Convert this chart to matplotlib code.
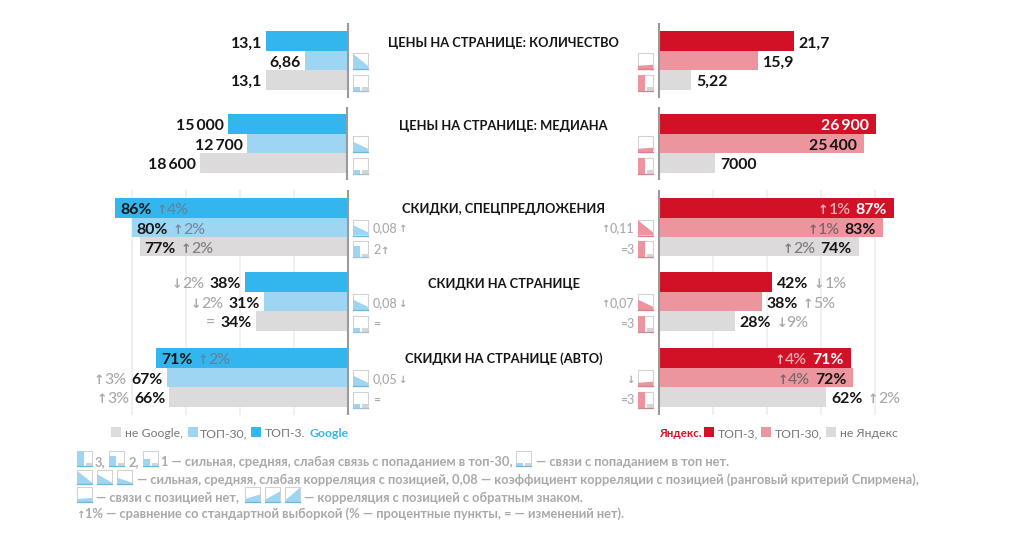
import matplotlib
matplotlib.use("Agg")
import matplotlib.pyplot as plt
from matplotlib.patches import Polygon, Rectangle

plt.rcParams['font.family'] = ['Lato', 'Noto Sans', 'DejaVu Sans']

# Data
titles = ["ЦЕНЫ НА СТРАНИЦЕ: КОЛИЧЕСТВО", "ЦЕНЫ НА СТРАНИЦЕ: МЕДИАНА", "СКИДКИ, СПЕЦПРЕДЛОЖЕНИЯ",
          "СКИДКИ НА СТРАНИЦЕ", "СКИДКИ НА СТРАНИЦЕ (АВТО)"]

google_values = [[13.1, 6.86, 13.1], [15000, 12700, 18600], [86, 80, 77], [38, 31, 34], [71, 67, 66]]
yandex_values = [[21.7, 15.9, 5.22], [26900, 25400, 7000], [87, 83, 74], [42, 38, 28], [71, 72, 62]]

google_labels = [["13,1", "6,86", "13,1"], ["15\u2009000", "12\u2009700", "18\u2009600"],
                 ["86%", "80%", "77%"], ["38%", "31%", "34%"], ["71%", "67%", "66%"]]
yandex_labels = [["21,7", "15,9", "5,22"], ["26\u2009900", "25\u2009400", "7000"],
                 ["87%", "83%", "74%"], ["42%", "38%", "28%"], ["71%", "72%", "62%"]]

google_deltas = [["", "", ""], ["", "", ""], ["↑4%", "↑2%", "↑2%"], ["↓2%", "↓2%", "="], ["↑2%", "↑3%", "↑3%"]]
yandex_deltas = [["", "", ""], ["", "", ""], ["↑1%", "↑1%", "↑2%"], ["↓1%", "↑5%", "↓9%"], ["↑4%", "↑4%", "↑2%"]]

# which labels sit inside the bar
google_inside = [[0, 0, 0], [0, 0, 0], [1, 1, 1], [0, 0, 0], [1, 0, 0]]
yandex_inside = [[0, 0, 0], [1, 1, 0], [1, 1, 1], [0, 0, 0], [1, 1, 0]]

google_corr = ["strong", "medium", "medium", "medium", "medium"]
yandex_corr = ["none", "none", "strong", "medium", "none"]
google_link = [0, 0, 2, 0, 0]
yandex_link = [3, 3, 3, 3, 3]
google_corr_notes = ["", "", "0,08↑", "0,08↓", "0,05↓"]
google_link_notes = ["", "", "2↑", "=", "="]
yandex_corr_notes = ["", "", "↑0,11", "↑0,07", "↓"]
yandex_link_notes = ["", "", "=3", "=3", "=3"]

percent_ticks = [20, 40, 60, 80]

# Layout, in pixels of the 1024x538 picture
W, H = 1024, 538
LEFT_X, RIGHT_X = 347.5, 659
group_tops = [31, 114, 197.5, 272, 348]
row_offsets = [0, 20, 39]
row_heights = [20, 19, 19.5]
title_ys = [47, 130, 213, 288, 363]
# first group, last group, px per unit on the left and on the right
panels = [(0, 1, 6.2, 6.2), (1, 2, 0.00795, 0.00807), (2, 5, 2.7, 2.7)]

BLUE, LIGHT_BLUE, GRAY = "#33b6ee", "#9dd5f3", "#dcdadb"
RED, PINK = "#d31126", "#ec959f"
DARK_TEXT, NOTE_GRAY = "#151515", "#a9a9a9"
google_colors = [BLUE, LIGHT_BLUE, GRAY]
yandex_colors = [RED, PINK, GRAY]
google_on_bar = ["#5c87a0", "#748c9a", "#808080"]
yandex_on_bar = ["#f2b4bb", "#76686a", "#7d7d7d"]

fig = plt.figure(figsize=(W / 100, H / 100), dpi=100)
deco = fig.add_axes([0, 0, 1, 1], zorder=5)
deco.set_xlim(0, W)
deco.set_ylim(H, 0)
deco.axis("off")


def side_axes(side, scale):
    if side == "left":
        ax = fig.add_axes([0, 0, LEFT_X / W, 1])
        ax.set_xlim(LEFT_X / scale, 0)
    else:
        ax = fig.add_axes([RIGHT_X / W, 0, (W - RIGHT_X) / W, 1])
        ax.set_xlim(0, (W - RIGHT_X) / scale)
    ax.set_ylim(H, 0)
    ax.axis("off")
    ax.patch.set_alpha(0)
    return ax


def split_arrow(text):
    # arrows go as their own small bold pieces, the way the reference sets them
    pieces = []
    for ch in text:
        if ch in "↑↓":
            pieces.append((ch, True))
        elif pieces and not pieces[-1][1]:
            pieces[-1] = (pieces[-1][0] + ch, False)
        else:
            pieces.append((ch, False))
    return pieces


def draw_run(ax, x, y, text, ha, color, size, weight, start_gap=0, after=None, zorder=4):
    # pieces are chained to each other, so a run can hang on the end of another text
    pieces = split_arrow(text)
    if ha == "right":
        pieces = pieces[::-1]
    prev = after
    gap = start_gap
    for piece, is_arrow in pieces:
        style = {"fontsize": size * 0.8, "fontweight": "bold", "family": ["DejaVu Sans"]} if is_arrow \
            else {"fontsize": size, "fontweight": weight}
        if prev is None:
            xy, xycoords = (x, y), "data"
        else:
            xy, xycoords = (0 if ha == "right" else 1, y), (prev, "data")
        prev = ax.annotate(piece, xy=xy, xycoords=xycoords, xytext=(gap, 0), textcoords="offset pixels",
                           ha=ha, va="baseline", color=color, zorder=zorder, annotation_clip=False, **style)
        gap = 0
    return prev


def draw_label(ax, side, value, y, label, delta, is_inside, row, on_bar):
    # text grows towards the left when it ends at the bar end
    ends_at_bar = (side == "left") != bool(is_inside)
    ha = "right" if ends_at_bar else "left"
    if side == "left":
        offset = 5 if is_inside else -4
    else:
        offset = -7 if is_inside else 5
    color = DARK_TEXT
    if is_inside and side == "right" and row == 0:
        color = "#ffffff"
    val = draw_run(ax, value, y, label, ha, color, 11.4, "bold", start_gap=offset)
    if delta:
        dcolor = on_bar[row] if is_inside else NOTE_GRAY
        draw_run(ax, value, y, delta, ha, dcolor, 11.4, "medium", start_gap=-5 if ends_at_bar else 5, after=val)


def draw_side(side, values, labels, deltas, inside, colors, on_bar):
    for first, last, scale_left, scale_right in panels:
        ax = side_axes(side, scale_left if side == "left" else scale_right)
        if first == 2:
            ax.vlines(percent_ticks, 190, 415, color="#eeeeee", lw=1.2, zorder=1)
        for g in range(first, last):
            tops = [group_tops[g] + o for o in row_offsets]
            ax.barh(tops, values[g], height=row_heights, align="edge", color=colors, zorder=2)
            for r in range(3):
                draw_label(ax, side, values[g][r], tops[r] + row_heights[r] / 2 + 6.5, labels[g][r],
                           deltas[g][r], inside[g][r], r, on_bar)
        if first == 0:
            ax.vlines(0, 23, 98, color="#9a9a9a", lw=1.5, clip_on=False, zorder=3)
        elif first == 1:
            ax.vlines(0, 107, 180, color="#9a9a9a", lw=1.5, clip_on=False, zorder=3)
        else:
            ax.vlines(0, 190, 415, color="#9a9a9a", lw=1.5, clip_on=False, zorder=3)


def corr_icon(x, y, left_h, right_h, fill, edge, w=15, h=16):
    deco.add_patch(Rectangle((x, y), w, h, fc="white", ec="#d2d2d2", lw=0.8))
    deco.add_patch(Polygon([(x, y + h), (x, y + h - h * left_h), (x + w, y + h - h * right_h), (x + w, y + h)],
                           fc=fill, ec="none"))
    deco.plot([x, x + w], [y + h, y + h], color=edge, lw=0.9)


def link_icon(x, y, level, fill, edge, w=15, h=16):
    heights = {0: 0.2, 1: 0.45, 2: 0.7, 3: 1.0}
    deco.add_patch(Rectangle((x, y), w, h, fc="white", ec="#d2d2d2", lw=0.8))
    deco.add_patch(Rectangle((x, y + h - h * heights[level]), w * 0.45, h * heights[level], fc=fill, ec="none"))
    deco.add_patch(Rectangle((x + w * 0.6, y + h - h * 0.2), w * 0.4, h * 0.2, fc="#d5d5d5", ec="none"))
    deco.plot([x, x + w], [y + h, y + h], color=edge, lw=0.9)


CORR_SHAPES = {"strong": (0.95, 0.2), "medium": (0.65, 0.2), "weak": (0.4, 0.15), "none": (0.2, 0.27)}

draw_side("left", google_values, google_labels, google_deltas, google_inside, google_colors, google_on_bar)
draw_side("right", yandex_values, yandex_labels, yandex_deltas, yandex_inside, yandex_colors, yandex_on_bar)

for g, top in enumerate(group_tops):
    deco.text(503.5, title_ys[g], titles[g], ha="center", va="baseline", fontsize=9.3, fontweight="bold",
              color=DARK_TEXT)
    corr_y, link_y = top + 22, top + 43.5
    left_h, right_h = CORR_SHAPES[google_corr[g]]
    corr_icon(353, corr_y, left_h, right_h, LIGHT_BLUE, "#6fb6dc")
    link_icon(353, link_y, google_link[g], LIGHT_BLUE, "#9dc4d8")
    left_h, right_h = CORR_SHAPES[yandex_corr[g]]
    corr_icon(638, corr_y, left_h, right_h, PINK, "#d9808c")
    link_icon(638, link_y, yandex_link[g], PINK, "#c98a92")
    draw_run(deco, 373, corr_y + 13, google_corr_notes[g], "left", NOTE_GRAY, 9, "medium", zorder=6)
    draw_run(deco, 373, link_y + 13, google_link_notes[g], "left", NOTE_GRAY, 9, "medium", zorder=6)
    draw_run(deco, 634, corr_y + 13, yandex_corr_notes[g], "right", NOTE_GRAY, 9, "medium", zorder=6)
    draw_run(deco, 634, link_y + 13, yandex_link_notes[g], "right", NOTE_GRAY, 9, "medium", zorder=6)

# Legends
legend_items = [
    (111, GRAY, 125, "не Google,", "#777777", "normal", 8.8),
    (188, LIGHT_BLUE, 200, "ТОП-30,", "#777777", "normal", 8.8),
    (251, BLUE, 265, "ТОП-3.", "#777777", "normal", 8.8),
    (None, None, 309, "Google", BLUE, "bold", 8.8),
    (None, None, 659, "Яндекс.", RED, "bold", 8.3),
    (704, RED, 718, "ТОП-3,", "#777777", "normal", 8.8),
    (761, PINK, 775, "ТОП-30,", "#777777", "normal", 8.8),
    (826, GRAY, 840, "не Яндекс", "#777777", "normal", 8.8),
]
for box_x, box_color, text_x, text, color, weight, size in legend_items:
    if box_x is not None:
        deco.add_patch(Rectangle((box_x, 427), 10, 10, fc=box_color, ec="none"))
    deco.text(text_x, 437, text, fontsize=size, color=color, fontweight=weight, va="baseline")


# Footnote
def note(x, y, text, size=9.25):
    draw_run(deco, x, y, text, "left", NOTE_GRAY, size, "bold", zorder=6)


link_icon(77, 451, 3, LIGHT_BLUE, "#6fb6dc", h=15)
note(95, 466, "3,")
link_icon(109, 451, 2, LIGHT_BLUE, "#6fb6dc", h=15)
note(128, 466, "2,")
link_icon(143, 451, 1, LIGHT_BLUE, "#6fb6dc", h=15)
note(161, 466, "1 — сильная, средняя, слабая связь с попаданием в топ-30,")
link_icon(516, 451, 0, LIGHT_BLUE, "#6fb6dc", h=15)
note(536, 466, "— связи с попаданием в топ нет.")

corr_icon(77, 470, 0.95, 0.1, LIGHT_BLUE, "#6fb6dc", h=14)
corr_icon(97, 470, 0.7, 0.1, LIGHT_BLUE, "#6fb6dc", h=14)
corr_icon(117, 470, 0.45, 0.1, LIGHT_BLUE, "#6fb6dc", h=14)
note(137, 484, "— сильная, средняя, слабая корреляция с позицией, 0,08 — коэффициент корреляции с позицией (ранговый критерий Спирмена),")

corr_icon(77, 487, 0.2, 0.27, LIGHT_BLUE, "#6fb6dc", h=15)
note(96, 502, "— связи с позицией нет,")
corr_icon(245, 487, 0.2, 0.5, LIGHT_BLUE, "#6fb6dc", h=15)
corr_icon(265, 487, 0.15, 0.7, LIGHT_BLUE, "#6fb6dc", h=15)
corr_icon(285, 487, 0.1, 0.95, LIGHT_BLUE, "#6fb6dc", h=15)
note(304, 502, "— корреляция с позицией с обратным знаком.")

note(76, 518, "↑1% — сравнение со стандартной выборкой (% — процентные пункты, = — изменений нет).")

fig.savefig("out.png", dpi=100)
